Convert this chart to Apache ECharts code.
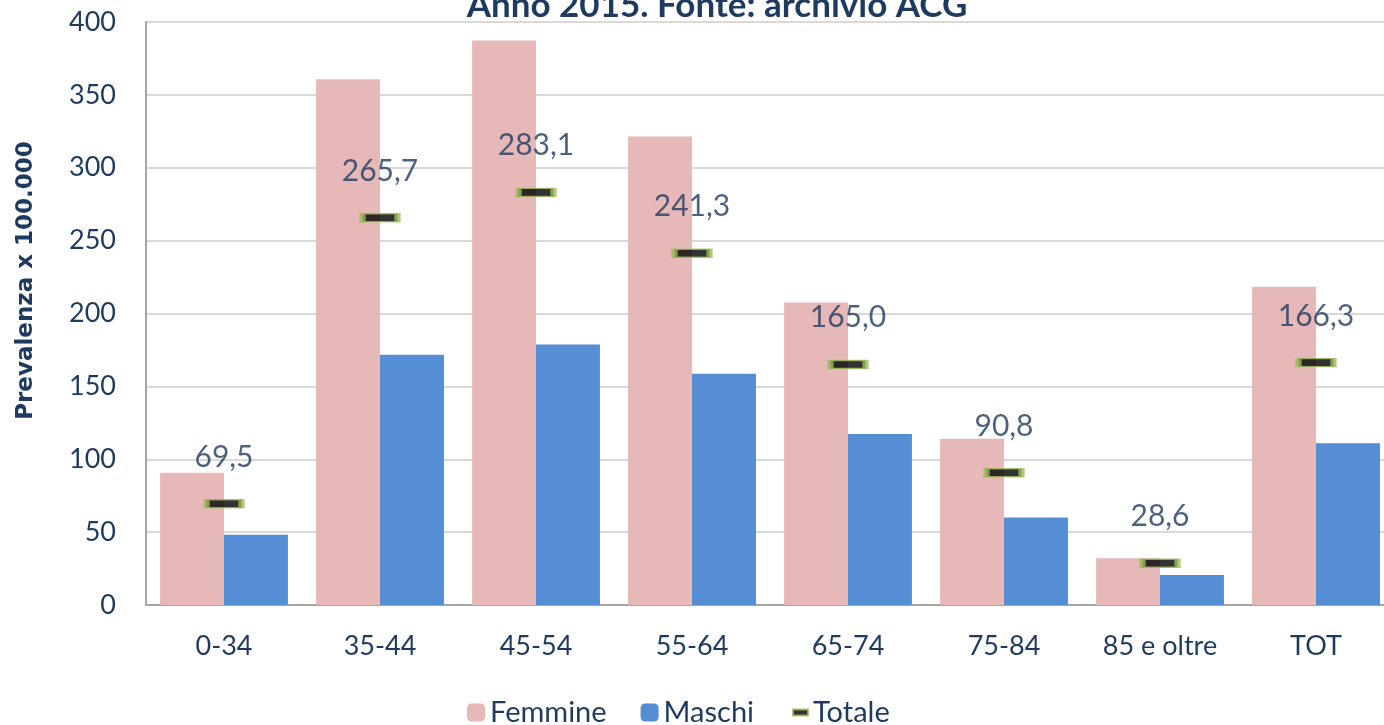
<!DOCTYPE html>
<html>
<head>
<meta charset="utf-8">
<script src="https://cdn.jsdelivr.net/npm/echarts@6/dist/echarts.min.js"></script>
<style>
    html, body { margin: 0; padding: 0; background: #fff; }
    #chart { width: 1384px; height: 725px; }
</style>
</head>
<body>
<div id="chart"></div>
<script>
    // dati
    var categorie = ['0-34', '35-44', '45-54', '55-64', '65-74', '75-84', '85 e oltre', 'TOT'];
    var femmine = [90.7, 360.8, 387.3, 321.4, 207.6, 114.1, 32.0, 218.3];
    var maschi = [48.2, 171.7, 178.8, 158.6, 117.3, 60.1, 20.6, 110.9];
    var totale = [69.5, 265.7, 283.1, 241.3, 165.0, 90.8, 28.6, 166.3];
    var yTicks = [0, 50, 100, 150, 200, 250, 300, 350, 400];

    var testo = '#1F3A5F';
    var font = 'Lato';

    var myChart = echarts.init(document.getElementById('chart'));
    var option = {
        animation: false,
        textStyle: { fontFamily: font },
        title: {
            text: 'Anno 2015. Fonte: archivio ACG',
            left: 712,
            textAlign: 'center',
            top: -17,
            textStyle: { color: testo, fontSize: 35, fontWeight: 'bold', fontFamily: font }
        },
        // legenda: barre e marcatore separati (icone di misura diversa)
        legend: [{
                data: ['Femmine', 'Maschi'],
                left: 462,
                top: 693,
                itemWidth: 18,
                itemHeight: 18,
                itemGap: 34,
                textStyle: { color: testo, fontSize: 29, fontFamily: font }
            },
            {
                data: ['Totale'],
                left: 787,
                top: 693,
                itemWidth: 15,
                itemHeight: 6,
                itemStyle: { borderWidth: 2 },
                textStyle: { color: testo, fontSize: 29, fontFamily: font }
            }
        ],
        // il grafico originale è tagliato a destra
        grid: {
            left: 146,
            width: 1248,
            top: 22,
            bottom: 120,
            outerBoundsMode: 'none'
        },
        xAxis: {
            type: 'category',
            data: categorie,
            axisLine: { lineStyle: { color: '#A6A6A6', width: 2 } },
            axisTick: { show: false },
            axisLabel: { color: testo, fontSize: 27, margin: 28, fontFamily: font }
        },
        yAxis: {
            type: 'value',
            min: yTicks[0],
            max: yTicks[yTicks.length - 1],
            interval: 50,
            name: 'Prevalenza x 100.000',
            nameLocation: 'middle',
            nameGap: 108,
            nameTextStyle: { color: testo, fontSize: 23, fontWeight: 'bold', fontFamily: 'DejaVu Sans', padding: [0, 0, 0, 66] },
            axisLine: { show: true, lineStyle: { color: '#A6A6A6', width: 2 } },
            axisTick: { show: false },
            axisLabel: { color: testo, fontSize: 27, margin: 30, fontFamily: font },
            splitLine: { lineStyle: { color: '#D9D9D9', width: 2 } }
        },
        series: [{
                name: 'Femmine',
                type: 'bar',
                data: femmine,
                barGap: '0%',
                barCategoryGap: '18%',
                itemStyle: { color: '#E6B9B8' }
            },
            {
                name: 'Maschi',
                type: 'bar',
                data: maschi,
                itemStyle: { color: '#558ED5' }
            },
            {
                name: 'Totale',
                type: 'scatter',
                data: totale,
                symbol: 'rect',
                symbolSize: [35, 8],
                itemStyle: { color: '#000', borderColor: '#9BBB59', borderWidth: 3 },
                label: {
                    show: true,
                    position: 'top',
                    distance: 27,
                    color: testo,
                    fontSize: 30,
                    fontFamily: font,
                    formatter: function (p) { return p.value.toFixed(1).replace('.', ','); }
                },
                z: 5
            }
        ]
    };
    myChart.setOption(option);
</script>
</body>
</html>
